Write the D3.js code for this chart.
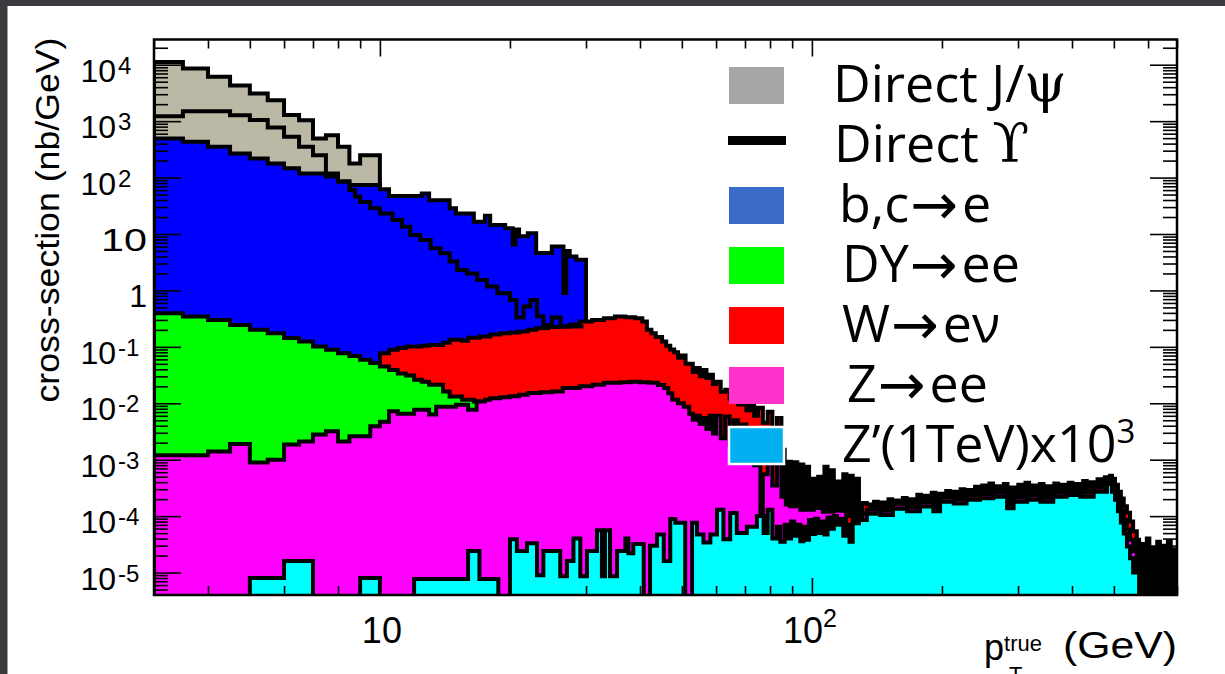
<!DOCTYPE html>
<html><head><meta charset="utf-8">
<script src="https://cdn.jsdelivr.net/npm/d3@7"></script>
<style>
html,body{margin:0;padding:0;background:#fff;}
svg{display:block;}
</style></head><body>
<svg id="chart" width="1225" height="674"></svg>
<script>
// ---- axis ranges and tick labels ----
const ptRange = [3, 700];            // GeV
const xsecRange = [4e-6, 2.8e4];     // nb/GeV
const xMajorTicks = [10, 100];
const xTickLabels = ["10", "10^2"];
const yMajorTicks = [1e4, 1e3, 1e2, 10, 1, 1e-1, 1e-2, 1e-3, 1e-4, 1e-5];
const yTickLabels = ["10^4", "10^3", "10^2", "10", "1", "10^-1", "10^-2", "10^-3", "10^-4", "10^-5"];

// ---- stacked histogram tops: [lower bin edge, cumulative value]; last entry closes the range ----
const jpsiStack = [[3,1.12e4],[3.5,8.6e3],[4,6.1e3],[4.5,4.3e3],[5,3.1e3],[5.5,2.35e3],[6,1.28e3],[6.5,1.04e3],
  [7,494],[7.5,565],[8,351],[8.5,178],[9,250],[10,null]];

const bcStack = [[3,494],[3.5,430],[4,351],[4.5,268],[5,218],[5.5,178],[6,146],[6.5,118],[7.5,104],[8,85],
  [8.5,74],[10,62],[10.5,47],[12.5,52],[13,39.5],[14.5,28.5],[15,23],[16.5,16.5],[17.5,21],[18,14.5],
  [19.5,12.6],[20.3,6.5],[20.6,12],[21,9.1],[22,10.3],[23,4.6],[25,6],[26.6,0.9],[27,5],[27.5,4.0],
  [28.5,3.5],[30,null]];

const wStack = [[10,0.0774],[10.5,0.0885],[11,0.095],[11.5,0.101],[12.5,0.105],[13,0.108],[14,0.118],
  [14.5,0.133],[15.5,0.128],[16,0.145],[17,0.152],[18,0.165],[19,0.175],[20,0.18],[21,0.187],[22,0.2],
  [23,0.214],[24.5,0.225],[26,0.229],[27.5,0.25],[29,0.28],[31,0.3],[33,0.322],[35,0.344],[37,0.335],
  [39,0.322],[40.5,0.28],[41.5,0.2],[42.5,0.175],[43.5,0.15],[45,0.125],[46,0.105],[47,0.09],[48,0.08],
  [49,0.064],[50,0.07],[51,0.05],[52,0.05],[53,0.036],[54,0.042],[55,0.03],[56,0.039],[57,0.028],
  [58,0.032],[59,0.022],[60,0.024],[61.5,0.016],[63,0.0173],[64.5,0.012],[66,0.0136],[67.5,0.0095],
  [69,0.0115],[70.5,0.0075],[72,0.0098],[73.5,0.006],[75,0.0083],[77,0.0045],[79,0.0071],[81,0.0035],
  [83,0.0055],[85,0.0015],[86.5,1e-4],[88,9.2e-4],[89.5,1e-4],[91,9e-4],[92.5,1e-4],[94,8.2e-4],
  [95.5,1e-4],[97,7.5e-4],[98.5,1e-4],[100,4.6e-4],[101.7,1e-4],[103.4,5e-4],[105.1,1e-4],[106.9,7.5e-4],
  [108.7,1e-4],[110.5,6.5e-4],[112.4,1e-4],[114.3,4.1e-4],[116.2,1e-4],[118.2,5.5e-4],[120.2,1e-4],
  [122.2,5.2e-4],[124.3,1e-4],[126.4,4.6e-4],[128.5,1e-4],[130.7,1.7e-4],
  [134,1.6e-4],[136.6,1e-5],[139.3,1.8e-4],[142,1e-5],[144.7,1.75e-4],[147.5,1e-5],[150.4,2.0e-4],
  [153.3,1e-5],[156.3,1.9e-4],[159.3,1e-5],[162.4,2.1e-4],[165.6,1e-5],[168.8,2.0e-4],[172.1,1e-5],
  [175.4,2.4e-4],[178.8,1e-5],[182.3,2.3e-4],[185.8,1e-5],[189.4,2.6e-4],[193.1,1e-5],[196.9,2.5e-4],
  [200.7,1e-5],[204.6,2.8e-4],[208.6,1e-5],[212.6,2.7e-4],[216.7,1e-5],[220.9,3.0e-4],[225.2,1e-5],
  [229.6,2.9e-4],[234.1,1e-5],[238.6,3.3e-4],[243.2,1e-5],[247.9,3.5e-4],[252.7,1e-5],[257.6,3.8e-4],
  [262.6,1e-5],[267.7,3.4e-4],[272.9,1e-5],[278.2,3.7e-4],[283.6,1e-5],[289.1,3.2e-4],[294.7,1e-5],
  [300.4,3.6e-4],[306.2,1e-5],[312.2,3.9e-4],[318.2,1e-5],[324.4,3.5e-4],[330.7,1e-5],[337.1,3.7e-4],
  [343.6,1e-5],[350.3,3.4e-4],[357.1,1e-5],[364,3.8e-4],[371.1,1e-5],[378.3,3.6e-4],[385.6,1e-5],
  [393.1,3.9e-4],[400.7,1e-5],[408.5,3.7e-4],[416.4,1e-5],[424.5,4.2e-4],[432.7,1e-5],[441.1,4.0e-4],
  [449.7,1e-5],[458.4,4.5e-4],[467.3,1e-5],[476.4,4.9e-4],[485.6,1e-5],[490,5.2e-4],
  [495,4.6e-4],[503,3.6e-4],[511,2.7e-4],[519,2.05e-4],[527,1.5e-4],[536,1.15e-4],[545,8e-5],
  [554,5.4e-5],[565,null]];

const dyStack = [[3,0.394],[3.5,0.344],[4,0.30],[4.5,0.245],[5,0.2],[5.5,0.175],[6,0.143],[6.5,0.124],
  [7,0.101],[7.5,0.0885],[8,0.0773],[8.5,0.069],[9,0.059],[9.5,0.0515],[10,0.0448],[10.5,0.039],
  [11,0.0336],[11.5,0.031],[12,0.026],[12.5,0.024],[13,0.0212],[14,0.0162],[14.5,0.0132],[15.5,0.0115],
  [16.5,0.0107],[17,null]];

const zStack = [[3,1.2e-3],[4,1.4e-3],[4.5,1.9e-3],[5,8.9e-4],[5.5,1.0e-3],[6,1.85e-3],[6.5,2.1e-3],
  [7,2.8e-3],[7.5,3.2e-3],[8,2.1e-3],[8.5,2.6e-3],[9.5,3.9e-3],[10,4.7e-3],[10.5,7.2e-3],[11,6.5e-3],
  [12,7.7e-3],[13,6.3e-3],[13.5,8.7e-3],[15,9.4e-3],[16,7.7e-3],[16.75,1.07e-2],[17.5,1.15e-2],
  [18,1.23e-2],[19,1.28e-2],[20,1.33e-2],[21,1.42e-2],[22,1.52e-2],[23.5,1.57e-2],[25,1.62e-2],
  [26.5,1.86e-2],[29,2.0e-2],[31,2.12e-2],[33,2.3e-2],[36,2.35e-2],[38,2.4e-2],[40,2.35e-2],[42,2.3e-2],
  [44,2.1e-2],[45.5,1.86e-2],[46.5,1.5e-2],[47.5,1.15e-2],[49,1.0e-2],[50.5,8.7e-3],[52,6.5e-3],
  [53,5.1e-3],[54,6e-3],[55,4.3e-3],[56,5.5e-3],[57,3.5e-3],[58,6e-3],[59,2.9e-3],[60,6e-3],[61.5,2.4e-3],
  [63,5.8e-3],[64.5,1.8e-3],[66,5e-3],[67.5,1.4e-3],[69,4.2e-3],[70.5,1.1e-3],[72,3e-3],[73.5,8e-4],
  [75,2e-3],[76,9e-5],[77,5.5e-4],[79,1.5e-3],[81,3.5e-4],[83,9e-4],[85,2.2e-4],[87,1.6e-4],[89,1.5e-4],
  [94,1.3e-4],[101,1.4e-4],[106,1.2e-4],[112,1.25e-4],[120,6e-5],[125,1.1e-4],[134,1.3e-4],[144,1.24e-4],
  [154,1.6e-4],[166,1.44e-4],[178,1.75e-4],[191,1.44e-4],[198,2.11e-4],[213,1.98e-4],[228,2.3e-4],
  [245,2.44e-4],[263,2.6e-4],[283,1.63e-4],[293,2.11e-4],[315,2.3e-4],[338,2.11e-4],[362,2.6e-4],
  [389,2.78e-4],[418,2.6e-4],[449,3.19e-4],[482,4.37e-4],[495,3.6e-4],[503,2.7e-4],[511,1.8e-4],
  [519,1.25e-4],[527,8.6e-5],[536,5.8e-5],[545,3.8e-5],[554,2.4e-5],[565,null]];

const zprimeStack = [[3,0],[5,8e-6],[6,1.6e-5],[7,0],[9,8e-6],[10,0],[12,7.7e-6],[16,2.4e-5],[17,7.7e-6],
  [18.8,0],[20,3.9e-5],[20.75,2.4e-5],[21.9,3.3e-5],[23.1,9e-6],[23.9,2.4e-5],[26.15,8.6e-6],[27.1,1.6e-5],
  [28.06,4e-5],[29.1,8.6e-6],[30.15,2.4e-5],[31.8,5.6e-5],[32.65,8.6e-6],[33.2,5.6e-5],[34.1,8.6e-6],
  [35.4,2.4e-5],[37,4e-5],[37.6,2.2e-5],[38.6,3.2e-5],[40.8,0],[42.2,3e-5],[43.8,4.7e-5],[45.4,1.6e-5],
  [47,8.9e-5],[48.3,7.6e-5],[50.9,0],[52.8,7.6e-5],[54.2,4.7e-5],[56.1,3.4e-5],[58.2,4.7e-5],[60.3,1.3e-4],
  [62.4,3.9e-5],[64.7,1.14e-4],[67,5e-5],[70.7,6.5e-5],[74.6,1.0e-4],[77.3,5e-5],[79,1.3e-4],[81,4e-5],
  [83,6.5e-5],[84.5,3.5e-5],[86.5,7e-5],[88,4e-5],[89.5,8e-5],[91,4.5e-5],[92.5,7e-5],[94,3.6e-5],
  [95.5,6.5e-5],[97,3.8e-5],[98.5,8.5e-5],[100,4.8e-5],[101.7,9e-5],[103.4,5e-5],[105.1,8e-5],[106.9,4.7e-5],
  [108.7,9.5e-5],[110.5,6e-5],[112.4,1.0e-4],[114.3,7e-5],[116.2,9e-5],[118.2,4.5e-5],[120.2,7e-5],
  [122.2,3.5e-5],[124.3,1.0e-4],[126.4,7.5e-5],[128.5,1.15e-4],[130.7,8.5e-5],[134,1.1e-4],[144,1.05e-4],
  [154,1.35e-4],[166,1.22e-4],[178,1.48e-4],[191,1.22e-4],
  [198,1.79e-4],[213,1.68e-4],[228,1.95e-4],[245,2.07e-4],[263,2.2e-4],[283,1.38e-4],[293,1.79e-4],
  [315,1.95e-4],[338,1.79e-4],[362,2.2e-4],[389,2.36e-4],[418,2.2e-4],[449,2.7e-4],[482,3.7e-4],
  [495,2.7e-4],[503,1.96e-4],[511,1.22e-4],[519,7.7e-5],[527,4.9e-5],[536,2.9e-5],[545,1.8e-5],[554,1.0e-5],
  [565,3.8e-5],[572,0],[580,3.2e-5],[588,0],[596,4e-5],[604,0],[612,2.8e-5],[621,0],[630,3.5e-5],[639,0],
  [648,3e-5],[657,0],[667,3.6e-5],[677,0],[687,2.6e-5],[700,null]];

// Direct Upsilon: drawn as an unfilled overlay line
const upsilonLine = [[3,1225],[3.5,1503],[4.5,1277],[5,1044],[5.5,773],[6,527],[6.5,351],[7,250],[7.5,118],
  [8,85],[8.5,60],[8.75,46],[9,37],[9.5,28.5],[10,23],[10.7,17.7],[11.25,13.5],[11.75,9.6],[12.4,7.8],
  [13.1,5.6],[13.8,4.55],[14.5,3.24],[15.1,2.31],[15.9,2.0],[16.8,1.53],[17.7,1.17],[18.7,0.89],[20,0.68],
  [20.7,0.33],[21.5,0.52],[22.3,0.68],[23.1,0.35],[23.9,0.245],[25,0.33],[26.2,0.23],[29.6,null]];

const legendLabels = ["Direct J/ψ", "Direct ϒ", "b,c→e", "DY→ee", "W→eν", "Z→ee", "Z’(1TeV)x10^3"];

// ---- layout ----
const W = 1225, H = 674;
const plot = {left: 154, right: 1177, top: 39.5, bottom: 595};
const floorY = plot.bottom + 8;

const svg = d3.select("#chart");
svg.append("rect").attr("width", W).attr("height", H).attr("fill", "#fff");
svg.append("rect").attr("x", 0).attr("y", 0).attr("width", W).attr("height", 6).attr("fill", "#3b3b3f");
svg.append("rect").attr("x", 0).attr("y", 0).attr("width", 7.5).attr("height", H).attr("fill", "#3b3b3f");

const x = d3.scaleLog().domain(ptRange).range([plot.left, plot.right]);
const y = d3.scaleLog().domain(xsecRange).range([plot.bottom, plot.top]);

function yv(v) {
  if (v == null || v <= 0) return floorY;
  return Math.min(floorY, y(v));
}

// histogram outline as a step path; closed paths drop to the floor at both ends
function stepPath(bins, closed) {
  const p = d3.path();
  const x0 = x(bins[0][0]);
  if (closed) { p.moveTo(x0, floorY); p.lineTo(x0, yv(bins[0][1])); }
  else p.moveTo(x0, yv(bins[0][1]));
  let cy = yv(bins[0][1]);
  for (let i = 1; i < bins.length; i++) {
    const xi = x(bins[i][0]);
    p.lineTo(xi, cy);
    if (bins[i][1] != null) { cy = yv(bins[i][1]); p.lineTo(xi, cy); }
  }
  if (closed) { p.lineTo(x(bins[bins.length - 1][0]), floorY); p.closePath(); }
  return p.toString();
}

svg.append("clipPath").attr("id", "plotClip").append("rect")
  .attr("x", plot.left).attr("y", plot.top)
  .attr("width", plot.right - plot.left).attr("height", plot.bottom - plot.top);

const layers = [
  {bins: jpsiStack, fill: "#bcb8a6"},
  {bins: bcStack, fill: "#0000ff"},
  {bins: wStack, fill: "#ff0000"},
  {bins: dyStack, fill: "#00ff00"},
  {bins: zStack, fill: "#ff00ff"},
  {bins: zprimeStack, fill: "#00ffff"}
];

const gHist = svg.append("g").attr("clip-path", "url(#plotClip)");
layers.forEach(l => {
  gHist.append("path").attr("d", stepPath(l.bins, true))
    .attr("fill", l.fill).attr("stroke", "#000").attr("stroke-width", 4)
    .attr("stroke-linejoin", "miter");
});
gHist.append("path").attr("d", stepPath(upsilonLine, false))
  .attr("fill", "none").attr("stroke", "#000").attr("stroke-width", 4);

// ---- axes with inward ticks ----
const yMinor = [];
for (let k = -6; k <= 4; k++) for (let m = 2; m <= 9; m++) {
  const v = m * Math.pow(10, k);
  if (v > xsecRange[0] && v < xsecRange[1]) yMinor.push(v);
}
const xMinor = [];
for (let k = 0; k <= 2; k++) for (let m = 2; m <= 9; m++) {
  const v = m * Math.pow(10, k);
  if (v >= ptRange[0] && v <= ptRange[1] && !xMajorTicks.includes(v)) xMinor.push(v);
}

function styleAxis(g) {
  g.select(".domain").remove();
  g.selectAll("line").attr("stroke", "#000").attr("stroke-width", 1.6);
}
const axes = svg.append("g");
axes.append("g").attr("transform", `translate(${plot.left},0)`)
  .call(d3.axisLeft(y).tickValues(yMajorTicks).tickSize(-27).tickFormat("")).call(styleAxis);
axes.append("g").attr("transform", `translate(${plot.left},0)`)
  .call(d3.axisLeft(y).tickValues(yMinor).tickSize(-14).tickFormat("")).call(styleAxis);
axes.append("g").attr("transform", `translate(${plot.right},0)`)
  .call(d3.axisRight(y).tickValues(yMajorTicks).tickSize(-27).tickFormat("")).call(styleAxis);
axes.append("g").attr("transform", `translate(${plot.right},0)`)
  .call(d3.axisRight(y).tickValues(yMinor).tickSize(-14).tickFormat("")).call(styleAxis);
axes.append("g").attr("transform", `translate(0,${plot.bottom})`)
  .call(d3.axisBottom(x).tickValues(xMajorTicks).tickSize(-17).tickFormat("")).call(styleAxis);
axes.append("g").attr("transform", `translate(0,${plot.bottom})`)
  .call(d3.axisBottom(x).tickValues(xMinor).tickSize(-9).tickFormat("")).call(styleAxis);
axes.append("g").attr("transform", `translate(0,${plot.top})`)
  .call(d3.axisTop(x).tickValues(xMajorTicks).tickSize(-17).tickFormat("")).call(styleAxis);
axes.append("g").attr("transform", `translate(0,${plot.top})`)
  .call(d3.axisTop(x).tickValues(xMinor).tickSize(-9).tickFormat("")).call(styleAxis);

svg.append("rect").attr("x", plot.left).attr("y", plot.top)
  .attr("width", plot.right - plot.left).attr("height", plot.bottom - plot.top)
  .attr("fill", "none").attr("stroke", "#000").attr("stroke-width", 2.5);

// ---- tick labels ----
const labelFont = "'Liberation Sans', Arial, sans-serif";
const gLab = svg.append("g").attr("font-family", labelFont).attr("fill", "#000");
yMajorTicks.forEach((v, i) => {
  const [base, exp] = yTickLabels[i].split("^");
  const by = y(v) + 17;
  if (exp === undefined) {
    const t = gLab.append("text").attr("x", 147).attr("y", by).attr("text-anchor", "end")
      .attr("font-size", 32).text(base);
    if (base.length > 1) t.attr("textLength", 46).attr("lengthAdjust", "spacingAndGlyphs");
  } else {
    const t = gLab.append("text").attr("x", 116).attr("y", by).attr("text-anchor", "end")
      .attr("font-size", 32);
    t.append("tspan").text(base);
    t.append("tspan").attr("x", 118).attr("dy", -8).attr("font-size", 24)
      .attr("text-anchor", "start").text(exp);
  }
});
xMajorTicks.forEach((v, i) => {
  const [base, exp] = xTickLabels[i].split("^");
  const t = gLab.append("text").attr("y", 643).attr("font-size", 36).attr("text-anchor", "middle");
  t.append("tspan").text(base);
  if (exp !== undefined) t.append("tspan").attr("dy", -16).attr("font-size", 25).text(exp);
  t.attr("x", x(v) + (exp !== undefined ? -2 : 2));
});

// axis titles
svg.append("text").attr("font-family", labelFont).attr("font-size", 33)
  .attr("transform", "translate(59,220) rotate(-90)").attr("text-anchor", "middle")
  .attr("textLength", 365).attr("lengthAdjust", "spacingAndGlyphs")
  .text("cross-section (nb/GeV)");
const xt = svg.append("text").attr("font-family", labelFont).attr("fill", "#000")
  .attr("x", 984).attr("y", 660).attr("font-size", 36);
xt.append("tspan").text("p");
xt.append("tspan").attr("dy", -9).attr("font-size", 22).text("true");
xt.append("tspan").attr("x", 1009).attr("y", 682).attr("font-size", 22).text("T");
svg.append("text").attr("font-family", labelFont).attr("fill", "#000")
  .attr("x", 1063).attr("y", 658).attr("font-size", 36)
  .attr("textLength", 114).attr("lengthAdjust", "spacingAndGlyphs").text("(GeV)");

// ---- legend ----
const legendSwatches = [
  {type: "box", fill: "#a6a6a6"},
  {type: "line"},
  {type: "box", fill: "#3a6bc6"},
  {type: "box", fill: "#00ff00"},
  {type: "box", fill: "#ff0000"},
  {type: "box", fill: "#ff33cc"},
  {type: "box", fill: "#00b0f0", border: true}
];
const legendTextX = [833, 834, 839, 842, 842, 847, 842];
const gLeg = svg.append("g");
const rowTop = 67, rowStep = 60;
legendSwatches.forEach((s, i) => {
  const top = rowTop + i * rowStep;
  if (s.type === "box") {
    gLeg.append("rect").attr("x", 729).attr("y", top).attr("width", 55).attr("height", 37)
      .attr("fill", s.fill).attr("stroke", s.border ? "#fff" : "none").attr("stroke-width", 2.5);
  } else {
    gLeg.append("rect").attr("x", 728).attr("y", top + 9).attr("width", 58).attr("height", 9)
      .attr("fill", "#000");
  }
});
const serifFont = "'DejaVu Serif', 'Liberation Serif', serif";
const arrowFont = "'DejaVu Sans', sans-serif";
const arrowSize = 57, arrowDrop = 2;

legendLabels.forEach((lab, i) => {
  const [main, sup] = lab.split("^");
  const t = gLeg.append("text").attr("x", legendTextX[i]).attr("y", 102 + i * rowStep)
    .attr("font-family", "'Open Sans', 'Noto Sans', sans-serif").attr("font-size", 52);
  // split runs so Greek letters and arrows get their own faces
  let run = "", kind = "text";
  const flush = () => {
    if (!run) return;
    const ts = t.append("tspan").text(run);
    if (kind === "greek") ts.attr("font-family", serifFont).attr("font-size", 54);
    if (kind === "arrow") ts.attr("font-family", arrowFont).attr("font-size", arrowSize)
      .attr("dx", 1).attr("dy", arrowDrop);
    if (kind === "after") ts.attr("dx", 4).attr("dy", -arrowDrop);
    run = "";
  };
  let prevArrow = false;
  for (const ch of main) {
    let k = /[ψϒ]/.test(ch) ? "greek" : (ch === "→" ? "arrow" : "text");
    if (k === "text" && prevArrow) k = "after";
    if (k !== kind) { flush(); kind = k; }
    run += ch;
    prevArrow = (ch === "→");
  }
  flush();
  if (sup !== undefined) t.append("tspan").attr("dy", -19).attr("font-size", 33).text(sup);
});
</script></body></html>
